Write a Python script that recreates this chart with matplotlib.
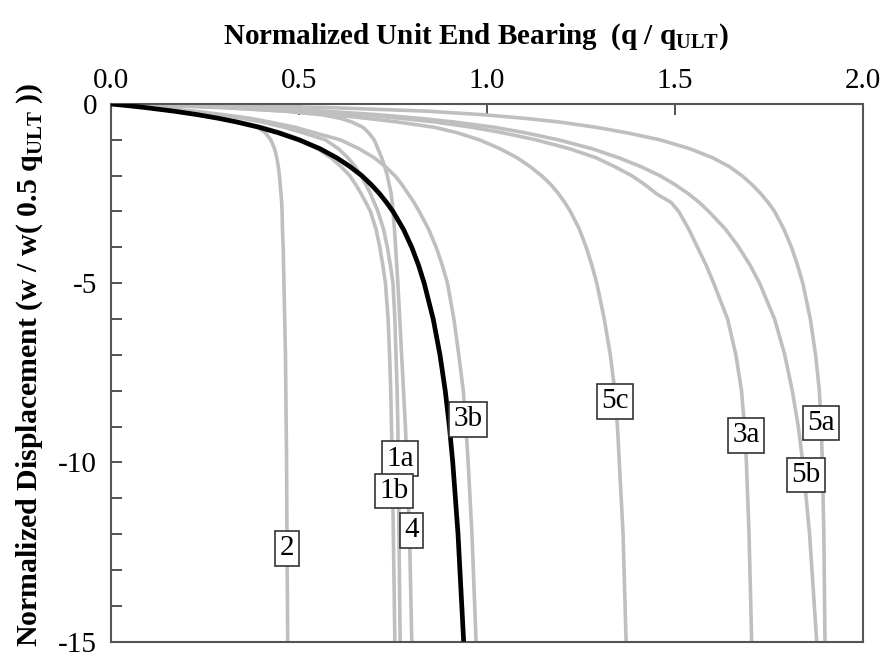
import matplotlib
matplotlib.use("Agg")
import matplotlib.pyplot as plt

plt.rcParams['font.family'] = ['Liberation Serif', 'DejaVu Serif']
plt.rcParams['mathtext.fontset'] = 'custom'
plt.rcParams['mathtext.rm'] = 'Liberation Serif'
plt.rcParams['mathtext.bf'] = 'Liberation Serif:bold'
plt.rcParams['axes.unicode_minus'] = False

# normalized displacement levels (w / w(0.5 qULT)), shared by all curves
disp = [0, -0.05, -0.1, -0.2, -0.3, -0.4, -0.5, -0.65, -0.8, -1, -1.25, -1.5, -1.75,
        -2, -2.25, -2.5, -2.75, -3, -3.5, -4, -4.5, -5, -6, -7, -8, -9, -10, -12, -15]

# normalized unit end bearing q / qULT read at each displacement level
q_ref = [0, 0.048, 0.091, 0.167, 0.231, 0.286, 0.333, 0.394, 0.444, 0.50, 0.556, 0.60, 0.636,
         0.667, 0.692, 0.714, 0.733, 0.75, 0.778, 0.80, 0.818, 0.833, 0.857, 0.875, 0.889, 0.90,
         0.909, 0.923, 0.938]
q_2 = [0, 0.048, 0.091, 0.167, 0.231, 0.286, 0.333, 0.39, 0.41, 0.425, 0.435, 0.441, 0.445,
       0.448, 0.45, 0.452, 0.454, 0.455, 0.456, 0.458, 0.459, 0.46, 0.462, 0.464, 0.465, 0.466,
       0.467, 0.468, 0.47]
q_1a = [0, 0.06, 0.12, 0.21, 0.29, 0.35, 0.40, 0.46, 0.51, 0.57, 0.605, 0.63, 0.65,
        0.665, 0.678, 0.69, 0.70, 0.71, 0.725, 0.735, 0.743, 0.75, 0.755, 0.758, 0.761, 0.763,
        0.764, 0.766, 0.769]
q_1b = [0, 0.05, 0.095, 0.175, 0.24, 0.295, 0.345, 0.405, 0.455, 0.505, 0.55, 0.585, 0.612,
        0.635, 0.651, 0.665, 0.678, 0.69, 0.705, 0.715, 0.723, 0.73, 0.737, 0.741, 0.744, 0.746,
        0.748, 0.751, 0.755]
q_4 = [0, 0.17, 0.30, 0.46, 0.56, 0.61, 0.64, 0.67, 0.685, 0.70, 0.71, 0.72, 0.728,
       0.735, 0.74, 0.745, 0.748, 0.75, 0.754, 0.757, 0.76, 0.763, 0.768, 0.773, 0.778, 0.783,
       0.787, 0.794, 0.80]
q_3b = [0, 0.06, 0.12, 0.22, 0.30, 0.37, 0.42, 0.49, 0.54, 0.61, 0.66, 0.70, 0.73,
        0.755, 0.774, 0.79, 0.806, 0.82, 0.845, 0.865, 0.881, 0.895, 0.912, 0.925, 0.937, 0.944,
        0.95, 0.96, 0.971]
q_5c = [0, 0.17, 0.30, 0.47, 0.59, 0.68, 0.76, 0.86, 0.92, 0.98, 1.035, 1.08, 1.115,
        1.145, 1.17, 1.19, 1.207, 1.222, 1.246, 1.264, 1.279, 1.292, 1.312, 1.328, 1.34, 1.347,
        1.352, 1.362, 1.37]
q_3a = [0, 0.20, 0.35, 0.54, 0.67, 0.77, 0.86, 0.96, 1.04, 1.13, 1.22, 1.29, 1.34,
        1.385, 1.42, 1.45, 1.49, 1.51, 1.537, 1.56, 1.583, 1.603, 1.64, 1.662, 1.677, 1.685,
        1.69, 1.697, 1.704]
q_5b = [0, 0.21, 0.37, 0.57, 0.71, 0.82, 0.91, 1.02, 1.10, 1.19, 1.28, 1.35, 1.41,
        1.46, 1.50, 1.535, 1.565, 1.59, 1.635, 1.67, 1.70, 1.725, 1.765, 1.792, 1.812, 1.828,
        1.84, 1.858, 1.877]
q_5a = [0, 0.35, 0.58, 0.84, 0.99, 1.10, 1.19, 1.29, 1.37, 1.46, 1.54, 1.60, 1.645,
        1.678, 1.705, 1.728, 1.748, 1.765, 1.79, 1.81, 1.826, 1.84, 1.86, 1.874, 1.884, 1.889,
        1.892, 1.896, 1.899]

grey_curves = [q_2, q_1a, q_1b, q_4, q_3b, q_5c, q_3a, q_5b, q_5a]

# curve labels and where they sit
label_text = ['2', '1a', '1b', '4', '3b', '5c', '3a', '5a', '5b']
label_q = [0.468, 0.769, 0.752, 0.80, 0.95, 1.34, 1.689, 1.888, 1.848]
label_w = [-12.4, -9.9, -10.8, -11.9, -8.8, -8.3, -9.25, -8.9, -10.35]

fig = plt.figure(figsize=(8.83, 6.56), dpi=100)
ax = fig.add_axes([0.1257, 0.022, 0.8516, 0.8195])

for q in grey_curves:
    ax.plot(q, disp, color='#bfbfbf', lw=2.6, solid_capstyle='butt', solid_joinstyle='round', zorder=2)
ax.plot(q_ref, disp, color='black', lw=3.4, solid_capstyle='butt', solid_joinstyle='round', zorder=3)

for t, x, y in zip(label_text, label_q, label_w):
    ax.text(x, y, t, ha='center', va='center', fontsize=21, zorder=5,
            bbox=dict(boxstyle='square,pad=0.15', fc='white', ec='#333333', lw=1.2))

ax.set_xlim(0, 2.0)
ax.set_ylim(-15, 0)
ax.set_xticks([0, 0.5, 1.0, 1.5, 2.0])
ax.set_xticklabels(['0.0', '0.5', '1.0', '1.5', '2.0'])
ax.set_yticks([0, -5, -10, -15])
ax.set_yticks(range(-14, 0), minor=True)
ax.xaxis.tick_top()
ax.xaxis.set_label_position('top')
ax.tick_params(axis='both', which='both', direction='in', labelsize=21, colors='#444444',
               labelcolor='black', width=1.3)
ax.tick_params(axis='x', length=8, pad=7)
ax.tick_params(axis='y', which='major', length=8, pad=10)
ax.tick_params(axis='y', which='minor', length=8)
for s in ax.spines.values():
    s.set_color('#555555')
    s.set_linewidth(1.5)

ax.set_xlabel(r'Normalized Unit End Bearing  (q / q$_{\mathbf{ULT}}$)', fontsize=21,
              fontweight='bold')
ax.set_ylabel(r'Normalized Displacement (w / w( 0.5 q$_{\mathbf{ULT}}$ ))', fontsize=21.5,
              fontweight='bold')
ax.xaxis.set_label_coords(0.4855, 1.113)
ax.yaxis.set_label_coords(-0.088, 0.515)

fig.savefig('out.png', dpi=100)
